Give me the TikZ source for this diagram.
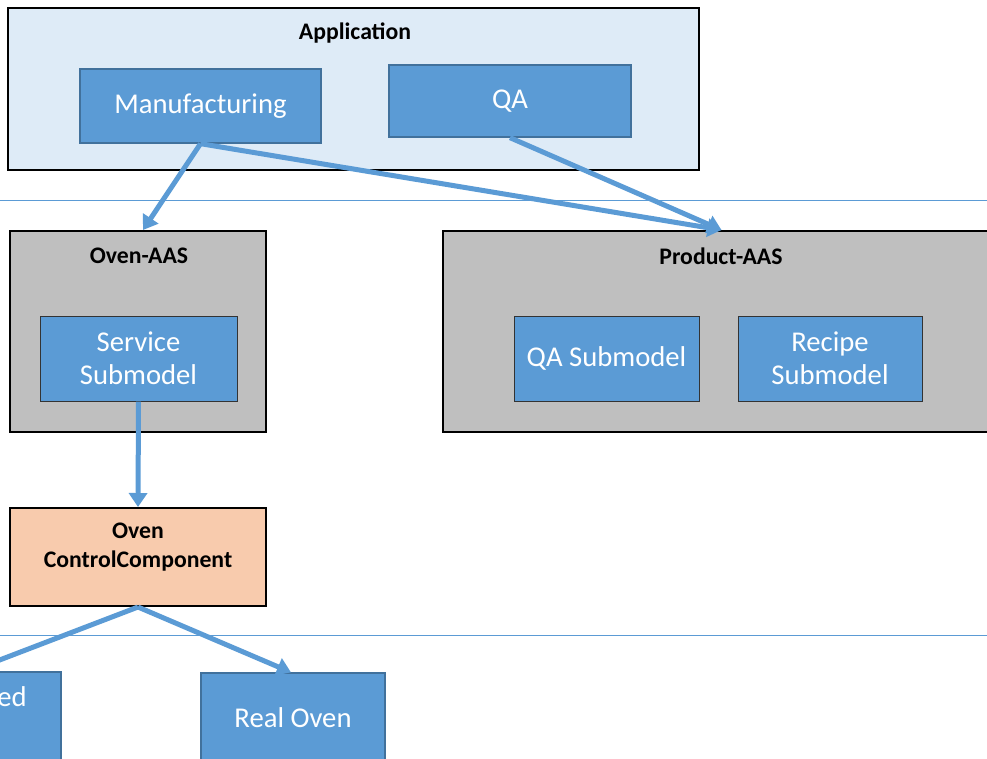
\documentclass[tikz,border=0pt]{standalone}
\usepackage{fontspec}
\setmainfont{Carlito}
\usetikzlibrary{arrows.meta}
\definecolor{appfill}{HTML}{DEEBF7}
\definecolor{bluefill}{HTML}{5B9BD5}
\definecolor{blueedge}{HTML}{41719C}
\definecolor{aasfill}{HTML}{BFBFBF}
\definecolor{ccfill}{HTML}{F8CBAD}
\definecolor{sepline}{HTML}{5B9BD5}
\tikzset{
  container/.style={draw=black, line width=1.5pt, rectangle, inner sep=0pt},
  bluebox/.style={draw=blueedge, fill=bluefill, line width=1pt, rectangle, inner sep=0pt,
    text=white, align=center, font=\fontsize{21.5}{25}\selectfont},
  subbox/.style={bluebox, draw=black!80, line width=0.75pt},
  title/.style={font=\bfseries\fontsize{17.8}{21.5}\selectfont, align=center, inner sep=0pt},
  conn/.style={draw=bluefill, line width=3.75pt, -{Triangle[length=10.5pt,width=13.5pt]}},
  plainconn/.style={draw=bluefill, line width=3.75pt},
  sep/.style={draw=sepline, line width=0.75pt}
}
\begin{document}
\begin{tikzpicture}[x=0.75pt,y=-0.75pt]
\useasboundingbox (0,0) rectangle (987,758);
\clip (0,0) rectangle (987,758);
% separators
\coordinate (s1a) at (0,200);
\coordinate (s1b) at (987,200);
\coordinate (s2a) at (0,635);
\coordinate (s2b) at (987,635);
\draw[sep] (s1a) -- (s1b);
\draw[sep] (s2a) -- (s2b);
% application
\node[container, fill=appfill, minimum width=518.25pt, minimum height=121.5pt] (app) at (353.5,89) {};
\node[title] (apptitle) at (355,33) {Application};
\node[bluebox, minimum width=180.75pt, minimum height=55.5pt] (manu) at (200.5,106) {Manufacturing};
\node[bluebox, minimum width=181.5pt, minimum height=54pt] (qa) at (510,101) {QA};
% Oven-AAS
\node[container, fill=aasfill, minimum width=192pt, minimum height=150.75pt] (ovenaas) at (138,331.5) {};
\node[title] (ovenaastitle) at (139,256) {Oven-AAS};
\node[subbox, minimum width=147.75pt, minimum height=63.75pt] (service) at (138.5,358.5) {Service\\Submodel};
% Product-AAS
\node[container, fill=aasfill, minimum width=417.75pt, minimum height=150.75pt] (prodaas) at (721.5,331.5) {};
\node[title] (prodaastitle) at (721,256) {Product-AAS};
\node[subbox, minimum width=138.75pt, minimum height=63.75pt] (qasub) at (606.5,358.5) {QA Submodel};
\node[subbox, minimum width=138pt, minimum height=63.75pt] (recipe) at (830,358.5) {Recipe\\Submodel};
% Oven ControlComponent
\node[container, fill=ccfill, minimum width=192pt, minimum height=73.5pt] (ovencc) at (138,557) {};
\node[title] (ovencctitle) at (138,547) {Oven\\ControlComponent};
% bottom boxes
\node[bluebox, minimum width=136.5pt, minimum height=72pt] (leftbox) at (-30,720) {};
\node[text=white, font=\fontsize{21.5}{25}\selectfont, anchor=east, inner sep=0pt] (lefttext) at (27,697) {ed};
\node[bluebox, minimum width=138pt, minimum height=67.5pt] (realoven) at (293,718) {Real Oven};
% connectors
\draw[conn] (manu.south) -- ([xshift=3.75pt]ovenaas.north);
\draw[conn] (manu.south) -- (prodaas.north);
\draw[conn] (qa.south) -- (prodaas.north);
\draw[conn] (service.south) -- (ovencc.north);
\draw[plainconn] (ovencc.south) -- (leftbox.north);
\draw[conn] (ovencc.south) -- ([xshift=-1.5pt]realoven.north);
\end{tikzpicture}
\end{document}
